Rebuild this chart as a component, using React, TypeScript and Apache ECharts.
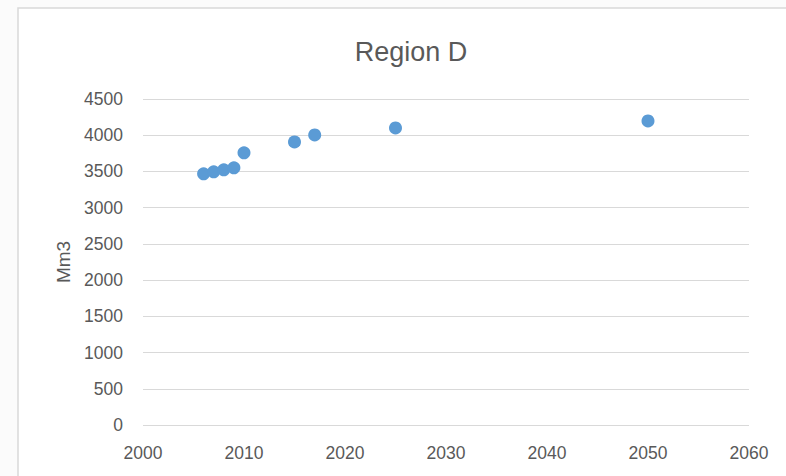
import React, { useEffect, useRef } from "react";
import * as echarts from "echarts";

const years = [2006, 2007, 2008, 2009, 2010, 2015, 2017, 2025, 2050];
const values = [3468, 3495, 3523, 3550, 3757, 3908, 4004, 4101, 4197];
const titleText = "Region D";
const yName = "Mm3";

export default function App() {
  const ref = useRef<HTMLDivElement>(null);
  useEffect(() => {
    const chart = echarts.init(ref.current!, null, { renderer: "svg" });
    const font = "'Liberation Sans', Arial, sans-serif";
    chart.setOption({
      animation: false,
      backgroundColor: "#fbfbfb",
      graphic: [
        {
          type: "rect",
          shape: { x: 18, y: 8, width: 800, height: 500 },
          style: { fill: "#ffffff", stroke: "#d9d9d9", lineWidth: 1.5 },
          z: -10,
        },
      ],
      title: {
        text: titleText,
        left: 406,
        top: 33,
        textAlign: "center",
        textStyle: { fontFamily: font, fontSize: 27, fontWeight: "normal", color: "#595959" },
      },
      grid: { left: 143, right: 37, top: 99, bottom: 51 },
      xAxis: {
        type: "value",
        min: 2000,
        max: 2060,
        interval: 10,
        axisLine: { show: false },
        axisTick: { show: false },
        splitLine: { show: false },
        axisLabel: {
          color: "#595959",
          fontSize: 17.5,
          fontFamily: font,
          margin: 19,
          formatter: (v: number) => String(v),
        },
      },
      yAxis: {
        type: "value",
        min: 0,
        max: 4500,
        interval: 500,
        name: yName,
        nameLocation: "middle",
        nameGap: 70,
        nameTextStyle: { color: "#595959", fontSize: 19, fontFamily: font },
        axisLine: { show: false },
        axisTick: { show: false },
        splitLine: { lineStyle: { color: "#d9d9d9", width: 1 } },
        axisLabel: {
          color: "#595959",
          fontSize: 17.5,
          fontFamily: font,
          margin: 20,
          formatter: (v: number) => String(v),
        },
      },
      series: [
        {
          type: "scatter",
          data: years.map((y, i) => [y, values[i]]),
          symbolSize: 13,
          itemStyle: { color: "#5b9bd5", opacity: 1 },
        },
      ],
    });
    return () => chart.dispose();
  }, []);
  return (
    <div
      ref={ref}
      style={{ position: "fixed", left: 0, top: 0, width: 786, height: 476 }}
    />
  );
}
